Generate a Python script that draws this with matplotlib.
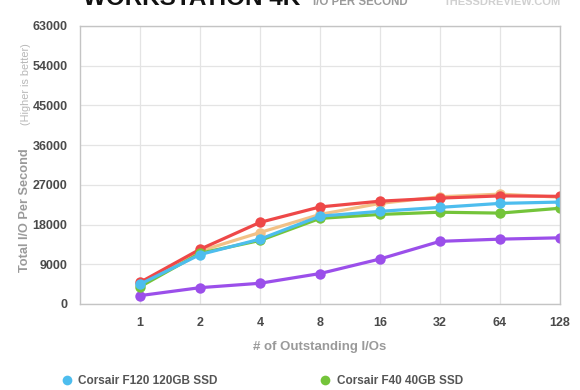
"""Workstation 4K I/O per second line chart."""

import matplotlib

matplotlib.use("Agg")
import matplotlib.pyplot as plt
from matplotlib.lines import Line2D

plt.rcParams["font.family"] = ["Liberation Sans", "DejaVu Sans"]

# ------------------------------------------------------------------
# Data
# ------------------------------------------------------------------
queue_depths = ["1", "2", "4", "8", "16", "32", "64", "128"]
y_ticks = [0, 9000, 18000, 27000, 36000, 45000, 54000, 63000]

corsair_f120 = [4480, 11200, 14700, 19900, 21000, 21900, 22800, 23100]
corsair_f40 = [3900, 11500, 14400, 19400, 20300, 20800, 20600, 21700]
red_series = [4900, 12400, 18500, 22000, 23300, 24000, 24500, 24400]
orange_series = [4600, 12000, 16200, 20300, 22800, 24300, 24900, 24200]
purple_series = [1900, 3700, 4700, 6900, 10200, 14200, 14700, 15000]

BLUE = "#4dbdee"
GREEN = "#74c43a"
RED = "#ee4848"
ORANGE = "#f2c187"
PURPLE = "#9b4fea"

fig = plt.figure(figsize=(5.8, 3.9), dpi=100)
ax = fig.add_axes([80 / 580, 1 - 304 / 390, 480 / 580, 278 / 390])

xs = list(range(len(queue_depths)))
series = [
    (orange_series, ORANGE),
    (purple_series, PURPLE),
    (red_series, RED),
    (corsair_f40, GREEN),
    (corsair_f120, BLUE),
]
for values, color in series:
    ax.plot(xs, values, color=color, lw=2.3, marker="o", ms=7.5,
            markeredgewidth=0, solid_capstyle="round")

ax.set_xlim(-1, len(queue_depths) - 1)
ax.set_ylim(0, 63000)
ax.set_xticks(xs)
ax.set_xticklabels(queue_depths)
ax.set_yticks(y_ticks)
ax.set_yticklabels([str(v) for v in y_ticks])
ax.tick_params(length=0, labelsize=9, labelcolor="#4a4a4a", pad=9)
for lbl in ax.get_xticklabels() + ax.get_yticklabels():
    lbl.set_fontweight("bold")

ax.grid(True, color="#e4e4e4", lw=0.9)
ax.set_axisbelow(True)
for spine in ax.spines.values():
    spine.set_color("#c4c4c4")
    spine.set_linewidth(1)

# Axis labels
ax.set_xlabel("# of Outstanding I/Os", fontsize=9.5, fontweight="bold",
              color="#9a9a9a", labelpad=9)
fig.text(25 / 580, 1 - 210 / 390, "Total I/O Per Second", rotation=90,
         ha="center", va="center", fontsize=9.2, fontweight="bold", color="#9a9a9a")
fig.text(26 / 580, 1 - 84 / 390, "(Higher is better)", rotation=90,
         ha="center", va="center", fontsize=7.8, color="#b8b8b8")

# Title (cropped at the top edge)
fig.text(83 / 580, 1 - 5 / 390, "WORKSTATION 4K", ha="left", va="baseline",
         fontsize=17.5, fontweight="bold", color="#111111")
fig.text(313 / 580, 1 - 5 / 390, "I/O PER SECOND", ha="left", va="baseline",
         fontsize=8.3, fontweight="bold", color="#9a9a9a")
fig.text(444 / 580, 1 - 5 / 390, "THESSDREVIEW.COM", ha="left", va="baseline",
         fontsize=8, fontweight="bold", color="#d0d0d0")

# Legend (only the first row is visible in the frame)
handles = [
    Line2D([], [], color=BLUE, marker="o", ls="none", ms=7, markeredgewidth=0),
    Line2D([], [], color=GREEN, marker="o", ls="none", ms=7, markeredgewidth=0),
]
fig.legend(handles, ["Corsair F120 120GB SSD", "Corsair F40 40GB SSD"],
           loc="center left", bbox_to_anchor=(50 / 580, 1 - 381 / 390), ncol=2,
           frameon=False, handlelength=1, handletextpad=0.5, columnspacing=8.6,
           prop={"weight": "bold", "size": 8.5}, labelcolor="#555555")

fig.savefig("out.png", dpi=100)
